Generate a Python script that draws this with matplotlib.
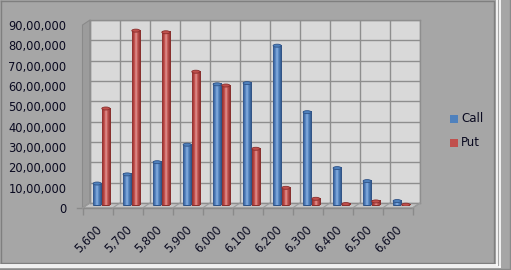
import numpy as np
import matplotlib
matplotlib.use("Agg")
import matplotlib.pyplot as plt
from matplotlib.patches import Polygon, Rectangle, Ellipse
from matplotlib.lines import Line2D
from matplotlib.transforms import ScaledTranslation
from matplotlib.colors import LinearSegmentedColormap

# ---- data ----
strikes = ['5,600', '5,700', '5,800', '5,900', '6,000', '6,100',
           '6,200', '6,300', '6,400', '6,500', '6,600']
call_oi = [1080000, 1530000, 2130000, 2990000, 5960000, 6020000,
           7860000, 4590000, 1840000, 1200000, 220000]
put_oi = [4770000, 8600000, 8520000, 6580000, 5900000, 2790000,
          870000, 330000, 70000, 200000, 40000]
series_names = ['Call', 'Put']
y_ticks = [0, 1000000, 2000000, 3000000, 4000000, 5000000,
           6000000, 7000000, 8000000, 9000000]
y_tick_labels = ['0', '10,00,000', '20,00,000', '30,00,000', '40,00,000',
                 '50,00,000', '60,00,000', '70,00,000', '80,00,000', '90,00,000']

# ---- style ----
W, H = 511, 270
BG = '#A6A6A6'
WALL = '#D9D9D9'
GRID = '#8E8E8E'
TXT = '#0A0A20'
CALL_COLS = ['#2F5387', '#5B8BC9', '#8DB3E2', '#4F81BD', '#2C4C7C']
PUT_COLS = ['#8A2E2C', '#C9524F', '#E39B99', '#C0504D', '#7E2B29']

fig = plt.figure(figsize=(W / 100, H / 100), dpi=100, facecolor=BG)


def fx(x):
    return x / W


def fy(y):
    return 1 - y / H


def px_axes(x0, x1, ytop, ybot, **kw):
    return fig.add_axes([fx(x0), fy(ybot), fx(x1) - fx(x0), fy(ytop) - fy(ybot)], **kw)


n = len(strikes)
YMAX = 9000000


def fline(xs, ys, color, lw=1.0):
    fig.add_artist(Line2D([fx(v) for v in xs], [fy(v) for v in ys],
                          color=color, lw=lw, transform=fig.transFigure))


# frame decorations
fline([0.5, 494, 494], [0.5, 0.5, 262.5], '#7F7F7F')
fline([0.5, 0.5], [0.5, 262.5], '#7F7F7F')
fline([0.5, 494], [262.5, 262.5], '#7F7F7F')
fline([496.5, 496.5], [0, 264.5], 'white', 1.2)
fline([0, 496.5], [264.5, 264.5], 'white', 1.2)
fline([499.5, 499.5], [0, 267], 'white', 1.2)
fline([0, 499.5], [267, 267], 'white', 1.2)
fline([509.5, 509.5], [0, 270], '#8A8A8A')
fline([0, 511], [269.3, 269.3], '#8A8A8A')

# geometry (pixels)
BX0, BX1, BTOP, BBOT = 90, 420, 20, 203
FX0, FX1, FTOP, FBOT = 82.5, 412.5, 25, 208
MX0, MX1, MTOP, MBOT = 86.5, 416.5, 22.5, 205.5

fig.add_artist(Polygon([(fx(FX0), fy(FTOP)), (fx(BX0), fy(BTOP)), (fx(BX0), fy(BBOT)),
                        (fx(FX0), fy(FBOT))], closed=True, transform=fig.transFigure,
                       facecolor='#9C9C9C', edgecolor='#8A8A8A', lw=0.8, zorder=0))
fig.add_artist(Polygon([(fx(FX0), fy(FBOT)), (fx(BX0), fy(BBOT)), (fx(BX1), fy(BBOT)),
                        (fx(FX1), fy(FBOT))], closed=True, transform=fig.transFigure,
                       facecolor='#C4C4C4', edgecolor='#8E8E8E', lw=0.8, zorder=0))

# back wall
axb = px_axes(BX0, BX1, BTOP, BBOT)
axb.set_facecolor(WALL)
axb.set_xlim(-0.5, n - 0.5)
axb.set_ylim(0, YMAX)
for yv in y_ticks:
    axb.axhline(yv, color=GRID, lw=1.0, zorder=1)
for k in range(n + 1):
    axb.axvline(k - 0.5, color=GRID, lw=1.0, zorder=1)
axb.set_xticks([])
axb.set_yticks([])
for s in axb.spines.values():
    s.set_color(GRID)
    s.set_linewidth(1.0)

for k in range(n + 1):
    fline([FX0 + 30 * k, BX0 + 30 * k], [FBOT, BBOT], '#9A9A9A', 0.8)

# front plane: labels and ticks
axf = px_axes(FX0, FX1, FTOP, FBOT)
axf.patch.set_alpha(0)
axf.set_xlim(-0.5, n - 0.5)
axf.set_ylim(0, YMAX)
for sname in ['top', 'right', 'left']:
    axf.spines[sname].set_visible(False)
axf.spines['bottom'].set_color('#8A8A8A')
axf.spines['bottom'].set_linewidth(1.0)
axf.set_yticks(y_ticks)
axf.set_yticklabels(y_tick_labels, fontsize=8.3, color=TXT, family='DejaVu Sans')
axf.tick_params(axis='y', length=0, pad=11.5)
axf.set_xticks(np.arange(n + 1) - 0.5)
axf.set_xticklabels([])
axf.tick_params(axis='x', which='major', length=5, color='#8A8A8A', width=1.0)
axf.set_xticks(np.arange(n), minor=True)
axf.set_xticklabels(strikes, minor=True, fontsize=8.3, color=TXT, rotation=45,
                    ha='right', va='center', rotation_mode='anchor', family='DejaVu Sans')
axf.tick_params(axis='x', which='minor', length=0, pad=14)
shift = ScaledTranslation(3 / 100, 0, fig.dpi_scale_trans)
for lab in axf.get_xticklabels(minor=True):
    lab.set_transform(lab.get_transform() + shift)
axf.add_line(Line2D([-0.7, -0.5], [0, 0], color='#8A8A8A', lw=1.0, clip_on=False))

# bars
axm = px_axes(MX0, MX1, MTOP, MBOT)
axm.patch.set_alpha(0)
axm.axis('off')

bw = 0.27
offs = [-0.145, 0.145]
cap_h = YMAX * 3.0 / (MBOT - MTOP)


def make_grad(cols):
    return LinearSegmentedColormap.from_list('g', [(0, cols[0]), (0.3, cols[1]), (0.45, cols[2]),
                                                   (0.65, cols[3]), (1.0, cols[4])])


grads = [make_grad(CALL_COLS), make_grad(PUT_COLS)]
gimg = np.linspace(0, 1, 64).reshape(1, -1)
for si, vals in enumerate([call_oi, put_oi]):
    cols = CALL_COLS if si == 0 else PUT_COLS
    for i, v in enumerate(vals):
        xc = i + offs[si]
        axm.imshow(gimg, cmap=grads[si], extent=(xc - bw / 2, xc + bw / 2, 0, v),
                   aspect='auto', interpolation='bilinear', zorder=3 + si)
        axm.add_patch(Ellipse((xc, v), bw, cap_h, facecolor=cols[3],
                              edgecolor=cols[0], lw=0.6, zorder=3.5 + si))
        axm.add_patch(Ellipse((xc, 0), bw, cap_h, facecolor=cols[0],
                              edgecolor='none', zorder=2.9 + si))
axm.set_xlim(-0.5, n - 0.5)
axm.set_ylim(0, YMAX)

# legend
for si, name in enumerate(series_names):
    ly = 119 + si * 24
    fig.add_artist(Rectangle((fx(450), fy(ly + 3.5)), fx(7.5), fy(0) - fy(7.5),
                             transform=fig.transFigure,
                             facecolor=[CALL_COLS[3], PUT_COLS[3]][si], edgecolor='none'))
    fig.text(fx(461), fy(ly), name, fontsize=8.5, color=TXT, va='center', ha='left',
             family='DejaVu Sans')

fig.savefig('out.png', dpi=100, facecolor=BG)
